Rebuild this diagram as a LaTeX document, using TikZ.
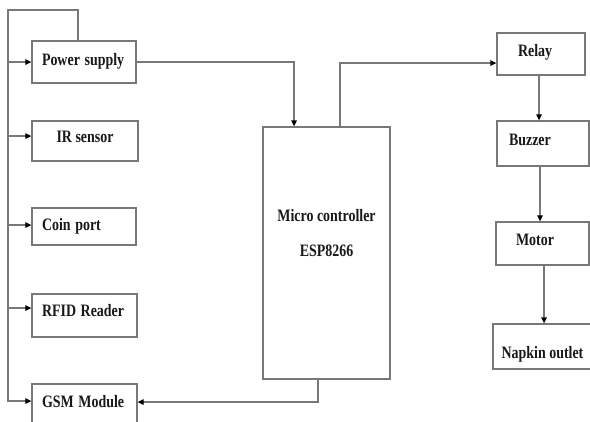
\documentclass[tikz,border=0pt]{standalone}
\usepackage{fontspec}
\setmainfont{Liberation Serif}
\usepackage{graphicx}
\usetikzlibrary{arrows.meta}
\definecolor{lg}{RGB}{120,120,120}
\definecolor{tx}{RGB}{25,25,25}
\newcommand\lift[2]{\raisebox{#1}[\height][\depth]{\scalebox{1}[1.25]{#2}}}
\tikzset{
  box/.style={draw=lg, line width=1.3bp, rectangle, inner sep=0pt, text=tx,
    text height=12bp, text depth=4bp, font=\bfseries\fontsize{14}{16}\selectfont},
  conn/.style={draw=lg, line width=1.3bp},
  arr/.style={-{Triangle[length=6bp,width=5.5bp,color=black]}}
}
\begin{document}
\begin{tikzpicture}[x=1bp,y=-1bp]
\fill[white] (0,0) rectangle (590,421);
\clip (0,0) rectangle (590,421);
% left column
\node[box, minimum width=104bp, minimum height=42bp, text width=84bp, inner xsep=10bp, align=left] (ps) at (84,62) {\lift{1bp}{Power supply}};
\node[box, minimum width=106bp, minimum height=40bp] (ir) at (85,141) {\lift{3bp}{IR sensor}};
\node[box, minimum width=104bp, minimum height=37bp, text width=84bp, inner xsep=10bp, align=left] (coin) at (84,226.5) {\lift{0bp}{Coin port}};
\node[box, minimum width=105bp, minimum height=43bp, text width=85bp, inner xsep=10bp, align=left] (rfid) at (84.5,315.5) {\lift{3.5bp}{RFID Reader}};
\node[box, minimum width=105bp, minimum height=40bp, text width=85bp, inner xsep=10bp, align=left] (gsm) at (84.5,404) {\lift{1bp}{GSM Module}};
% controller
\node[draw=lg, line width=1.3bp, rectangle, inner sep=0pt, text=tx, font=\bfseries\fontsize{14}{16}\selectfont,
  minimum width=127bp, minimum height=252bp] (mcu) at (326.5,253)
  {\raisebox{18bp}[\height][\depth]{\scalebox{1}[1.25]{\begin{tabular}{@{}c@{}}Micro controller\\[12.8bp]ESP8266\end{tabular}}}};
% right column
\node[box, minimum width=88bp, minimum height=42bp, text width=46bp, inner xsep=21bp, align=left] (relay) at (541,54) {\lift{2bp}{Relay}};
\node[box, minimum width=92bp, minimum height=45bp, text width=68bp, inner xsep=12bp, align=left] (buzzer) at (543,143.5) {\lift{2.5bp}{Buzzer}};
\node[box, minimum width=93bp, minimum height=43bp, text width=53bp, inner xsep=20bp, align=left] (motor) at (542.5,243.5) {\lift{2.5bp}{Motor}};
\node[box, minimum width=99bp, minimum height=45bp] (napkin) at (542.5,346.5) {\lift{-7.5bp}{Napkin outlet}};
% connection points
\coordinate (tl) at (8,10);
\coordinate (tr) at (78,10);
\coordinate (psin) at (ps.west);
\coordinate (irin) at ([yshift=5bp]ir.west);
\coordinate (coinin) at ([yshift=1.5bp]coin.west);
\coordinate (rfidin) at ([yshift=7.5bp]rfid.west);
\coordinate (gsmin) at ([yshift=3bp]gsm.west);
\coordinate (gsmin2) at ([yshift=2bp]gsm.east);
\coordinate (mcuin) at ([xshift=-32.5bp]mcu.north);
\coordinate (mcuout) at ([xshift=13.5bp]mcu.north);
\coordinate (mcudown) at ([xshift=-8.5bp]mcu.south);
\coordinate (relayin) at ([yshift=-9bp]relay.west);
\coordinate (relayout) at ([xshift=-2bp]relay.south);
\coordinate (buzzout) at ([xshift=-3bp]buzzer.south);
\coordinate (motorout) at ([xshift=1.5bp]motor.south);
% bus
\draw[conn, arr] (ps.north -| tr) -- (tr) -- (tl) |- (gsmin);
\draw[conn, arr] (tl |- psin) -- (psin);
\draw[conn, arr] (tl |- irin) -- (irin);
\draw[conn, arr] (tl |- coinin) -- (coinin);
\draw[conn, arr] (tl |- rfidin) -- (rfidin);
% controller links
\draw[conn, arr] (ps.east) -| (mcuin);
\draw[conn, arr] (mcuout) |- (relayin);
\draw[conn, arr] (mcudown) |- (gsmin2);
% right chain
\draw[conn, arr] (relayout) -- (relayout |- buzzer.north);
\draw[conn, arr] (buzzout) -- (buzzout |- motor.north);
\draw[conn, arr] (motorout) -- (motorout |- napkin.north);
\end{tikzpicture}
\end{document}
